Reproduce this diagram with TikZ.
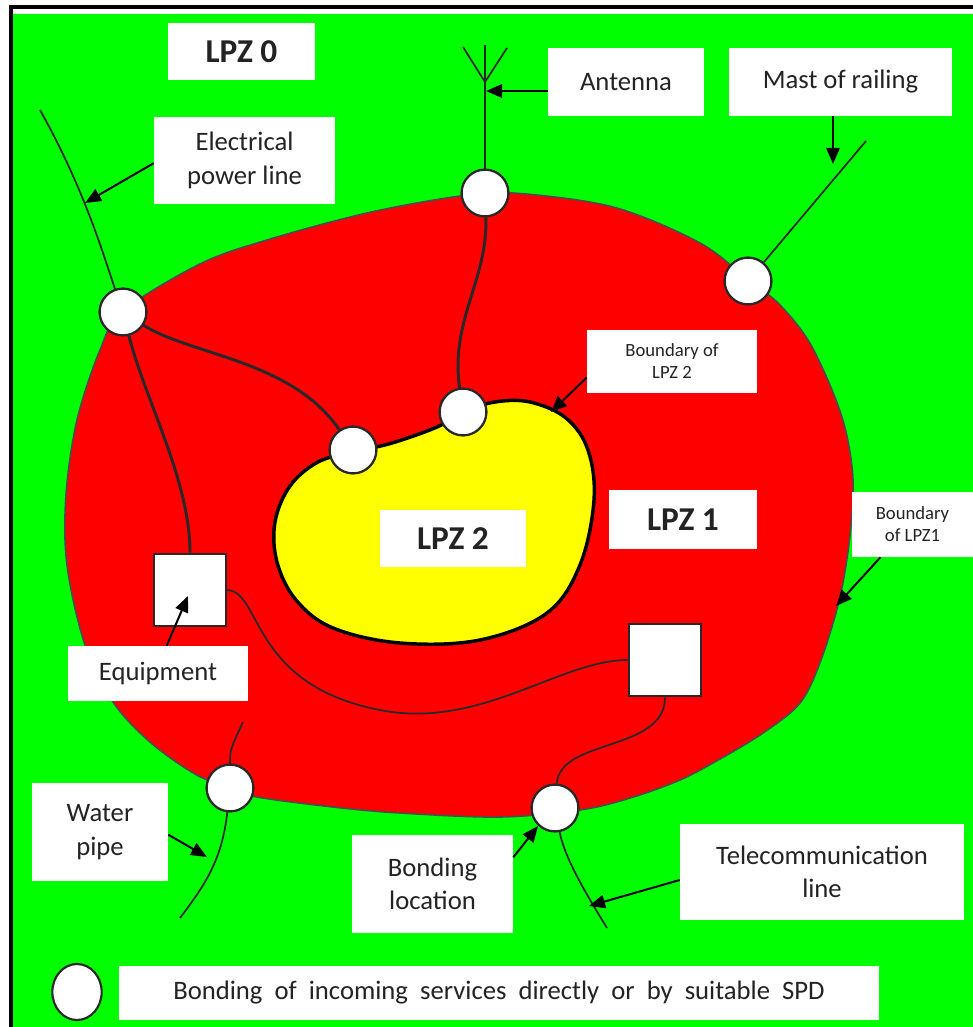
\documentclass[tikz,border=0pt]{standalone}
\usepackage{fontspec}
\setmainfont{Carlito}
\usetikzlibrary{arrows.meta,shapes.geometric}
\definecolor{bggreen}{RGB}{0,255,0}
\definecolor{lpzred}{RGB}{255,0,0}
\definecolor{lpzyellow}{RGB}{255,255,0}
\definecolor{txt}{RGB}{35,35,35}
\definecolor{wirec}{RGB}{40,40,40}
\begin{document}
\begin{tikzpicture}[x=0.75pt,y=-0.75pt,
  sz/.style 2 args={minimum width=#1*0.75pt, minimum height=#2*0.75pt},
  lbl/.style={fill=white, draw=none, inner sep=0pt, align=center, text=txt, font=\fontsize{20}{25}\selectfont},
  lpz/.style={lbl, font=\bfseries\fontsize{25}{30}\selectfont},
  small/.style={lbl, font=\fontsize{14}{16.5}\selectfont},
  bond/.style={circle, draw=wirec, line width=1.6pt, fill=white, minimum size=35pt, inner sep=0pt},
  equip/.style={draw=wirec, line width=2pt, fill=white, minimum size=54pt, inner sep=0pt},
  wire/.style={draw=wirec, line width=2.2pt},
  svc/.style={draw=wirec, line width=1.3pt},
  arr/.style={draw=black, line width=1.5pt, -{Triangle[length=12pt,width=10pt]}}
]
\useasboundingbox (0,0) rectangle (973,1027);
% background and frame
\fill[white] (0,0) rectangle (973,1027);
\fill[bggreen] (13,14) rectangle (973,1027);
\fill[black] (9,5) rectangle (973,9);
\fill[black] (9,5) rectangle (13,1027);

% LPZ 1 region
\draw[fill=lpzred, draw=black!70, line width=1.2pt] plot[smooth cycle, tension=0.55] coordinates {
 (123,311) (200,264) (267,240) (367,213) (460,196) (513,193) (613,207) (700,243) (748,280)
 (778,303) (808,340) (832,390) (846,432) (853,480) (850,535) (840,597) (821,660) (800,703)
 (763,733) (720,759) (680,780) (630,798) (580,810)
 (500,817) (400,813) (333,807) (257,797) (230,788) (195,774) (150,742) (113,702) (85,645)
 (67,565) (66,495) (77,420) (100,350)};

% LPZ 2 region
\draw[fill=lpzyellow, draw=black, line width=2.6pt] plot[smooth cycle, tension=0.6] coordinates {
 (353,452) (318,462) (290,486) (275,522) (277,562) (296,600) (333,628) (400,643) (480,640)
 (547,613) (580,565) (594,500) (588,450) (566,418) (530,402) (495,402) (463,412) (437,427) (392,443)};

% bonding circles
\node[bond] (P) at (123,312) {};
\node[bond] (A) at (485,193) {};
\node[bond] (M) at (748,281) {};
\node[bond] (W) at (230,788) {};
\node[bond] (T) at (555,808) {};
\node[bond] (C1) at (353,450) {};
\node[bond] (C2) at (463,412) {};

% equipment boxes
\node[equip] (E1) at (190,590) {};
\node[equip] (E2) at (665,660) {};

% free ends
\coordinate (plEnd) at (40,110);
\coordinate (antTop) at (485,45);
\coordinate (antL) at (463,47);
\coordinate (antV) at (485,82);
\coordinate (antR) at (507,48);
\coordinate (mastEnd) at (866,141);
\coordinate (wpTop) at (243,722);
\coordinate (wpEnd) at (180,918);
\coordinate (telEnd) at (607,928);

% wires inside
\draw[wire] (P) .. controls (190,355) and (292,360) .. (C1);
\draw[wire] (P) .. controls (145,400) and (190,480) .. (E1.north);
\draw[wire] (A) .. controls (488,280) and (450,320) .. (C2);
\draw[svc] (E1.east) .. controls (262,592) and (250,685) .. (380,710) .. controls (480,730) and (560,660) .. (E2.west);
\draw[svc] (E2.south) .. controls (665,752) and (560,738) .. (T);

% incoming services
\draw[svc] (plEnd) .. controls (85,190) and (105,260) .. (P);
\draw[svc] (A) -- (antTop);
\draw[svc] (antL) -- (antV) -- (antR);
\draw[svc] (M) -- (mastEnd);
\draw[svc] (W) .. controls (230,750) .. (wpTop);
\draw[svc] (W) .. controls (222,860) and (205,885) .. (wpEnd);
\draw[svc] (T) .. controls (565,860) and (590,900) .. (telEnd);

% redraw circles on top of wires
\node[bond] at (P) {};
\node[bond] at (A) {};
\node[bond] at (M) {};
\node[bond] at (W) {};
\node[bond] at (T) {};
\node[bond] at (C1) {};
\node[bond] at (C2) {};

% labels
\node[lpz, sz={147}{57}] (lpz0) at (241.5,51.5) {LPZ 0};
\node[lbl, sz={181}{87}] (elec) at (244.5,160.5) {Electrical\\power line};
\node[lbl, sz={156}{68}] (ant) at (626,82) {Antenna};
\node[lbl, sz={223}{68}] (mast) at (840.5,82) {Mast of railing};
\node[small, sz={170}{63}] (b2) at (672,361.5) {Boundary of\\LPZ 2};
\node[lpz, sz={148}{59}] (lpz1) at (683,519.5) {LPZ 1};
\node[small, sz={121}{65}] (b1) at (912.5,524.5) {Boundary\\of LPZ1};
\node[lpz, sz={146}{57}] (lpz2) at (453,538.5) {LPZ 2};
\node[lbl, sz={180}{55}] (eq) at (158,673.5) {Equipment};
\node[lbl, sz={136}{98}] (wat) at (100,832) {Water\\pipe};
\node[lbl, sz={161}{98}] (bondloc) at (432.5,884) {Bonding\\location};
\node[lbl, sz={284}{96}] (tel) at (822,872) {Telecommunication\\line};
\node[ellipse, draw=wirec, line width=1.6pt, fill=white, minimum width=37pt, minimum height=42pt, inner sep=0pt] (leg) at (77,992) {};
\node[lbl, sz={760}{54}] (legtxt) at (499,993) {Bonding\ \ of\ \ incoming\ \ services\ \ directly\ \ or\ \ by\ \ suitable\ \ SPD};

% arrow tips
\coordinate (plTip) at (85,203);
\coordinate (antTip) at (486,91);
\coordinate (mastTip) at (833,164);
\coordinate (b2Tip) at (551,412);
\coordinate (b1Tip) at (836,606);
\coordinate (eqTip) at (188,596);
\coordinate (watTip) at (207,857);
\coordinate (bondTip) at (538,826);
\coordinate (telTip) at (589,906);

% arrows
\draw[arr] ([yshift=-2pt]elec.west) -- (plTip);
\draw[arr] (ant.west |- antTip) -- (antTip);
\draw[arr] (mast.south -| mastTip) -- (mastTip);
\draw[arr] ([yshift=-12pt]b2.west) -- (b2Tip);
\draw[arr] ([xshift=-24pt]b1.south) -- (b1Tip);
\draw[arr] ([xshift=6.5pt]eq.north) -- (eqTip);
\draw[arr] ([yshift=-2pt]wat.east) -- (watTip);
\draw[arr] ([yshift=20pt]bondloc.east) -- (bondTip);
\draw[arr] ([yshift=-6pt]tel.west) -- (telTip);
\end{tikzpicture}
\end{document}
